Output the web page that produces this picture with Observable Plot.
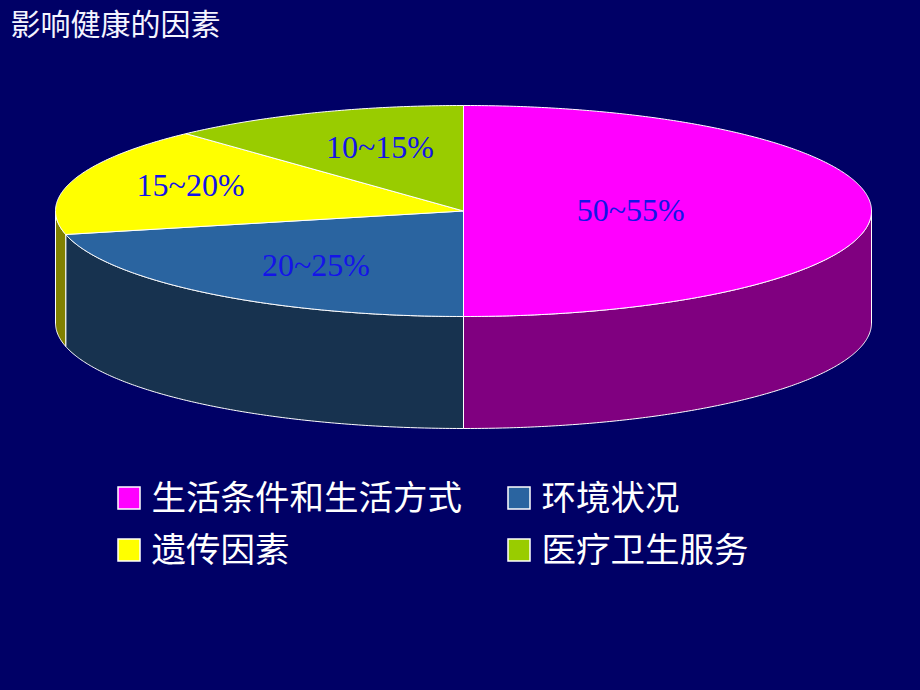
<!DOCTYPE html>
<html>
<head>
<meta charset="utf-8">
<script src="https://cdn.jsdelivr.net/npm/d3@7"></script>
<script src="https://cdn.jsdelivr.net/npm/@observablehq/plot@0.6"></script>
<style>
  html, body { margin: 0; padding: 0; background: #000066; }
  #chart svg { display: block; }
</style>
</head>
<body>
<div id="chart"></div>
<script>
// ---- data ----
const title = "影响健康的因素";
const categories = ["生活条件和生活方式", "环境状况", "遗传因素", "医疗卫生服务"];
const values = [52.5, 22.5, 17.5, 12.5];           // midpoints of the ranges shown
const labels = ["50~55%", "20~25%", "15~20%", "10~15%"];
const topColors = ["#FF00FF", "#2A64A0", "#FFFF00", "#99CC00"];
const sideColors = ["#800080", "#17324F", "#808000", "#4D6600"];

// ---- layout (3D pie geometry) ----
const W = 920, H = 690;
const cx = 463, cy = 210.5, rx = 408, ry = 105.5, depth = 112;
const labelR = [0.41, 0.58, 0.70, 0.56];
const labelVStretch = 1.15;

const total = d3.sum(values);
let acc = 0;
const slices = values.map((v, i) => {
  const a0 = acc / total * 360;
  acc += v;
  const a1 = acc / total * 360;
  return {i, a0, a1};
});
const rad = a => a * Math.PI / 180;
const px = (a, r = 1) => cx + rx * r * Math.sin(rad(a));
const py = (a, r = 1, z = 0) => cy - ry * r * Math.cos(rad(a)) + z;
function arc(a0, a1, z) {
  const n = Math.max(2, Math.ceil(Math.abs(a1 - a0) / 0.5));
  return d3.range(n + 1).map(k => {
    const a = a0 + (a1 - a0) * k / n;
    return {x: px(a), y: py(a, 1, z)};
  });
}

const marks = [];
// side walls (front half: 90..270 deg)
for (const s of slices) {
  const lo = Math.max(s.a0, 90), hi = Math.min(s.a1, 270);
  if (hi <= lo) continue;
  const pts = [...arc(lo, hi, 0), ...arc(hi, lo, depth)];
  pts.push(pts[0]);
  marks.push(Plot.line(pts, {x: "x", y: "y", fill: sideColors[s.i], stroke: "white", strokeWidth: 1}));
}
// top faces
for (const s of slices) {
  const pts = [{x: cx, y: cy}, ...arc(s.a0, s.a1, 0), {x: cx, y: cy}];
  marks.push(Plot.line(pts, {x: "x", y: "y", fill: topColors[s.i], stroke: "white", strokeWidth: 1}));
}
// value labels
const labelData = slices.map(s => {
  const m = (s.a0 + s.a1) / 2;
  const r = labelR[s.i];
  return {x: px(m, r), y: py(m, r * labelVStretch), t: labels[s.i]};
});
marks.push(Plot.text(labelData, {x: "x", y: "y", text: "t", fill: "#1414E8",
  fontSize: 32, fontFamily: "Liberation Serif, DejaVu Serif, serif"}));

// title
marks.push(Plot.text([title], {x: () => 10, y: () => 25, text: d => d, textAnchor: "start",
  fill: "#F4F4FF", fontSize: 30, fontFamily: "Noto Sans CJK SC"}));

// legend
const legend = categories.map((c, i) => {
  const col = i % 2, row = Math.floor(i / 2);
  const sx = 118 + col * 390, sy = 487 + row * 52;
  return {c, i, x1: sx, x2: sx + 22, y1: sy, y2: sy + 22, tx: sx + 33, ty: sy + 11};
});
marks.push(Plot.rect(legend, {x1: "x1", x2: "x2", y1: "y1", y2: "y2",
  fill: d => topColors[d.i], stroke: "white", strokeWidth: 1.5}));
marks.push(Plot.text(legend, {x: "tx", y: "ty", text: "c", textAnchor: "start", fill: "white",
  fontSize: 34.5, fontFamily: "Noto Sans CJK SC"}));

const chart = Plot.plot({
  width: W, height: H,
  margin: 0,
  x: {domain: [0, W], range: [0, W], axis: null},
  y: {domain: [0, H], range: [0, H], axis: null},
  style: {background: "#000066"},
  marks
});
document.getElementById("chart").appendChild(chart);
</script>
</body>
</html>
